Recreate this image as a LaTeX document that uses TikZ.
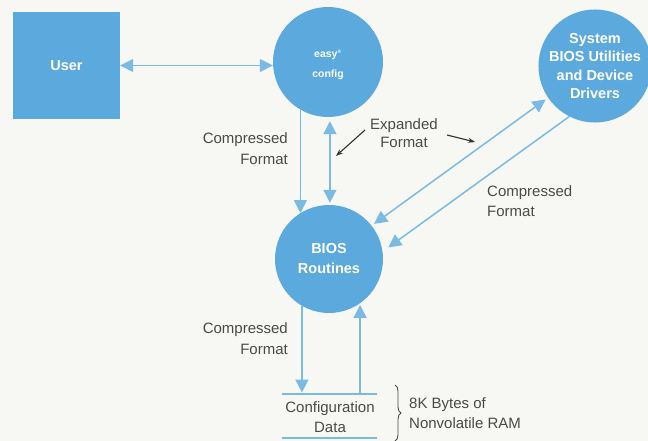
\documentclass[tikz,border=0pt]{standalone}
\usepackage{fontspec}
\setmainfont{Liberation Sans}
\usetikzlibrary{arrows.meta,decorations.pathreplacing,calc}
\definecolor{bgc}{HTML}{F7F8F3}
\definecolor{fillblue}{HTML}{5BA9DD}
\definecolor{lineblue}{HTML}{7BBAE5}
\definecolor{txtgray}{HTML}{4A4A4A}
\tikzset{
  blob/.style={circle,fill=fillblue,inner sep=0pt,text=white,font=\fontsize{14.5}{18.5}\selectfont\bfseries,align=center},
  userbox/.style={rectangle,fill=fillblue,inner sep=0pt,text=white,font=\fontsize{14.5}{18}\selectfont\bfseries},
  lbl/.style={text=txtgray,font=\fontsize{15}{21}\selectfont,inner sep=0pt},
  flow/.style={draw=lineblue,line width=1.5pt,>={Triangle[length=13pt,width=13pt]}},
  pointer/.style={draw=black!80,line width=1.1pt,-{Stealth[length=7pt,width=5pt]}},
  storeline/.style={draw=lineblue,line width=2.6pt}
}
\begin{document}
\begin{tikzpicture}[x=1pt,y=-1pt]
\fill[bgc] (0,0) rectangle (648,441);
\useasboundingbox (0,0) rectangle (648,441);

% nodes
\node[userbox,minimum width=107pt,minimum height=107pt] (user) at (66.5,65.5) {User};
\node[blob,minimum size=110pt,font=\fontsize{10.5}{20}\selectfont\bfseries,text depth=0pt] (easy) at (328,62) {\raisebox{-3pt}{easy\textsuperscript{\tiny ®}}\\[0pt]\raisebox{-3pt}{config}};
\node[blob,minimum size=108pt] (sys) at (595,66) {System\\BIOS Utilities\\and Device\\Drivers};
\node[blob,minimum size=108pt,font=\fontsize{14.5}{20}\selectfont\bfseries] (bios) at (329,259) {BIOS\\Routines};

% data store
\coordinate (dtl) at (282,394);
\coordinate (dtr) at (377,394);
\coordinate (dbl) at (282,438);
\coordinate (dbr) at (377,438);
\draw[storeline] (dtl) -- (dtr);
\draw[storeline] (dbl) -- (dbr);
\node[lbl,align=center,font=\fontsize{15}{20}\selectfont] (data) at (330,417) {Configuration\\Data};

% labels
\node[lbl,align=right,anchor=east] (cf1) at (288,149) {Compressed\\Format};
\node[lbl,align=center,font=\fontsize{15}{18}\selectfont] (exp) at (404,133) {Expanded\\Format};
\node[lbl,align=left,anchor=west,font=\fontsize{15}{20}\selectfont] (cf2) at (487,201) {Compressed\\Format};
\node[lbl,align=right,anchor=east] (cf3) at (288,339) {Compressed\\Format};
\node[lbl,align=left,anchor=west,font=\fontsize{15}{20}\selectfont] (ram) at (409,413) {8K Bytes of\\Nonvolatile RAM};

% brace
\coordinate (bt) at (395,385);
\coordinate (bb) at (395,441);
\draw[txtgray,line width=0.9pt,decorate,decoration={brace,amplitude=6pt}] (bt) -- (bb);

% connectors
\draw[flow,<->] (user.east) -- (user.east -| easy.west);
\draw[flow,->] (easy.240) -- (easy.240 |- bios.122);
\draw[flow,<->,shorten <=4pt,shorten >=2pt] (easy.272) -- (easy.272 |- bios.north);
\draw[flow,<->,shorten <=3pt,shorten >=3pt] (bios.38) -- (sys.214);
\draw[flow,->,shorten >=7pt] (sys.243) -- (bios.8);
\draw[flow,->,shorten >=1.5pt] (bios.240) -- (bios.240 |- dtl);
\draw[flow,->,shorten >=1.5pt] (bios.305 |- dtl) -- (bios.305);

% pointers from "Expanded Format"
\coordinate (p1s) at (365,130);
\coordinate (p1e) at (336,156);
\coordinate (p2s) at (447,135);
\coordinate (p2e) at (475,142);
\draw[pointer] (p1s) -- (p1e);
\draw[pointer] (p2s) -- (p2e);
\end{tikzpicture}
\end{document}
